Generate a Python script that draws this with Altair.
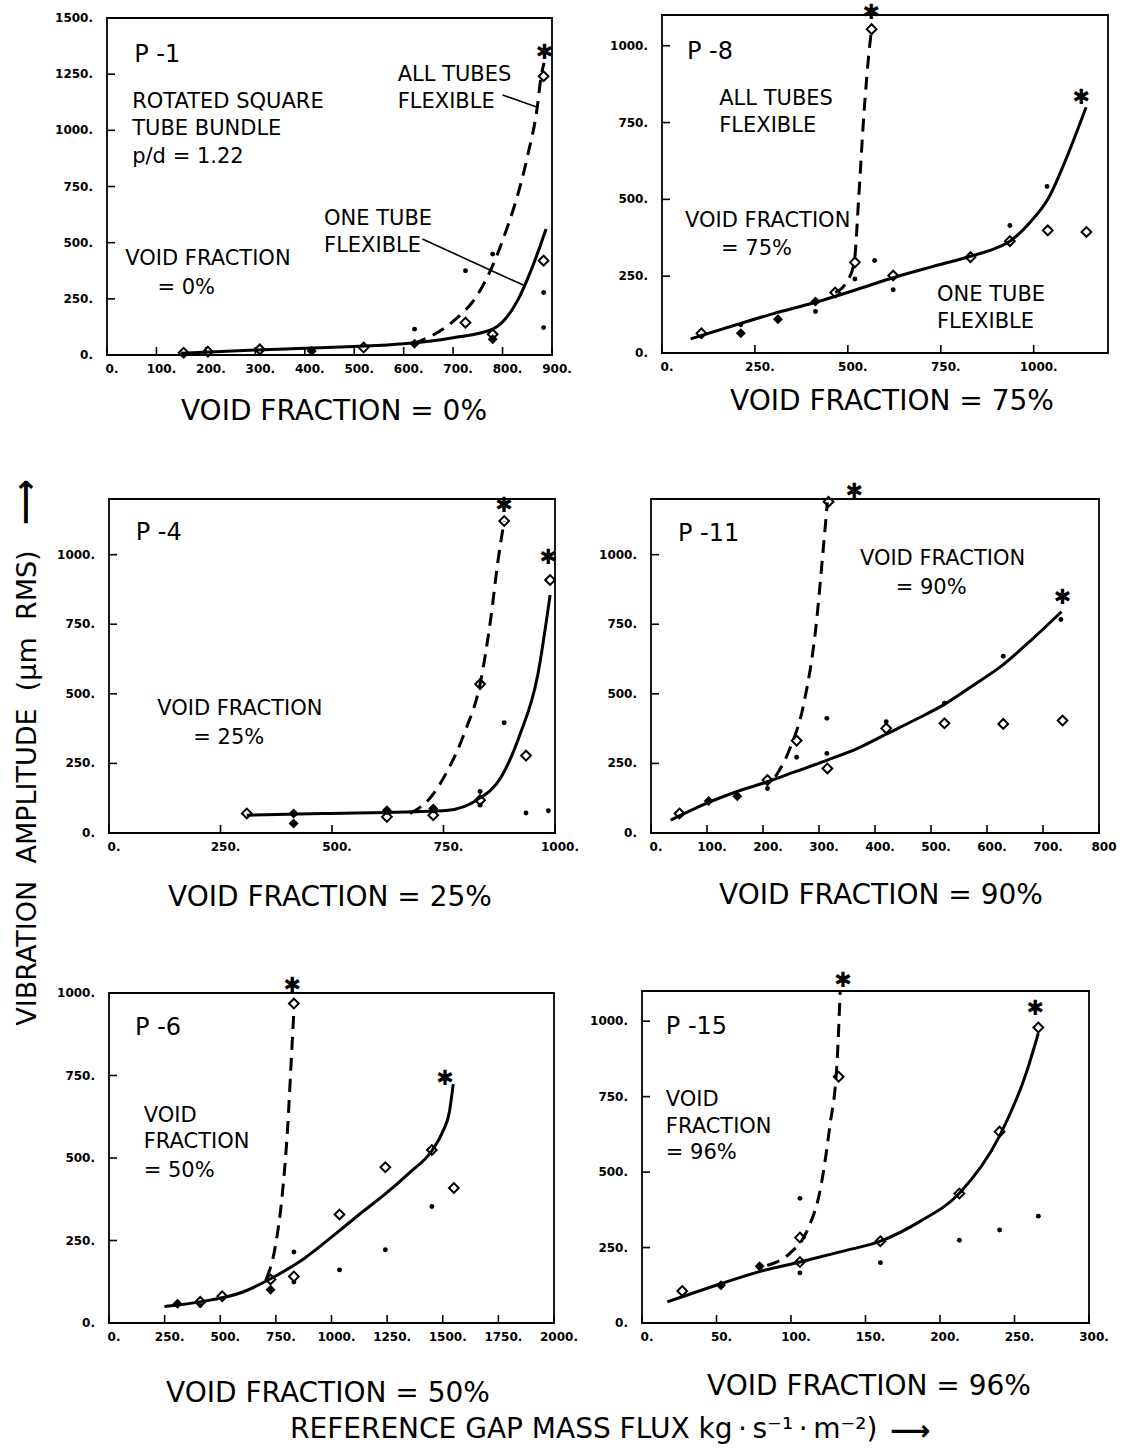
import altair as alt
import pandas as pd

FONT = "DejaVu Sans"
W, H = 1122, 1451

# ---------------- data ----------------
# P-1  void fraction 0 %
p1_open_x = [155, 204, 309, 519, 725, 780, 883, 883]
p1_open_y = [10, 15, 25, 33, 144, 92, 420, 1241]
p1_fill_x = [414, 622, 780]
p1_fill_y = [18, 50, 70]
p1_dot_x = [622, 725, 780, 883, 883]
p1_dot_y = [115, 375, 449, 278, 122]
p1_star_x = [885]
p1_star_y = [1342]
p1_solid_x = [150, 300, 400, 500, 600, 700, 780, 830, 860, 888]
p1_solid_y = [8, 22, 30, 38, 50, 77, 115, 241, 390, 561]
p1_dash_x = [620, 700, 750, 800, 850, 870, 878, 884]
p1_dash_y = [50, 150, 270, 509, 881, 1100, 1240, 1300]

# P-8  void fraction 75 %
p8_open_x = [106, 466, 519, 564, 622, 830, 936, 1038, 1142]
p8_open_y = [64, 197, 295, 1054, 252, 312, 364, 399, 394]
p8_fill_x = [212, 312, 413]
p8_fill_y = [64, 110, 168]
p8_dot_x = [212, 413, 519, 572, 622, 936, 1036]
p8_dot_y = [92, 135, 241, 301, 206, 415, 542]
p8_star_x = [563, 1128]
p8_star_y = [1106, 831]
p8_solid_x = [77, 200, 300, 413, 520, 622, 730, 830, 900, 936, 990, 1038, 1090, 1141]
p8_solid_y = [46, 92, 128, 165, 205, 245, 282, 315, 342, 364, 425, 500, 640, 800]
p8_dash_x = [466, 495, 517, 529, 543, 558, 564]
p8_dash_y = [197, 228, 293, 500, 773, 991, 1056]

# P-4  void fraction 25 %
p4_open_x = [309, 623, 727, 832, 832, 886, 935, 989]
p4_open_y = [70, 58, 64, 118, 535, 1121, 278, 909]
p4_fill_x = [414, 414, 623, 727]
p4_fill_y = [70, 34, 82, 88]
p4_dot_x = [832, 832, 886, 935, 985]
p4_dot_y = [149, 100, 396, 72, 80]
p4_star_x = [886, 985]
p4_star_y = [1175, 988]
p4_solid_x = [309, 478, 679, 760, 824, 880, 920, 961, 989]
p4_solid_y = [64, 70, 76, 82, 118, 203, 348, 565, 855]
p4_dash_x = [675, 719, 760, 800, 832, 856, 872, 886]
p4_dash_y = [70, 124, 227, 372, 535, 771, 976, 1121]

# P-11  void fraction 90 %
p11_open_x = [51, 208, 260, 315, 317, 420, 524, 629, 735]
p11_open_y = [70, 190, 332, 232, 1190, 376, 394, 392, 404]
p11_fill_x = [103, 154]
p11_fill_y = [115, 132]
p11_dot_x = [208, 260, 314, 314, 420, 524, 629, 732]
p11_dot_y = [160, 272, 412, 286, 400, 466, 635, 767]
p11_star_x = [363, 735]
p11_star_y = [1226, 845]
p11_solid_x = [35, 103, 155, 208, 260, 315, 370, 420, 470, 524, 575, 629, 680, 733]
p11_solid_y = [46, 110, 150, 184, 222, 262, 305, 355, 405, 462, 530, 605, 695, 795]
p11_dash_x = [222, 247, 273, 294, 307, 315]
p11_dash_y = [202, 298, 466, 731, 1007, 1188]

# P-6  void fraction 50 %
p6_open_x = [410, 509, 726, 831, 831, 1036, 1242, 1451, 1550]
p6_open_y = [64, 81, 132, 141, 968, 329, 472, 524, 409]
p6_fill_x = [308, 726]
p6_fill_y = [58, 101]
p6_dot_x = [410, 831, 831, 1036, 1242, 1451]
p6_dot_y = [53, 215, 124, 161, 222, 353]
p6_star_x = [824, 1510]
p6_star_y = [1021, 739]
p6_solid_x = [249, 410, 602, 726, 876, 1036, 1140, 1242, 1350, 1451, 1500, 1530, 1547]
p6_solid_y = [50, 64, 94, 134, 195, 280, 337, 391, 455, 522, 580, 640, 724]
p6_dash_x = [707, 747, 779, 803, 819, 831]
p6_dash_y = [134, 230, 391, 593, 794, 946]

# P-15  void fraction 96 %
p15_open_x = [27, 106, 106, 132, 160, 213, 240, 266]
p15_open_y = [106, 202, 283, 816, 271, 429, 634, 979]
p15_fill_x = [53, 79]
p15_fill_y = [125, 188]
p15_dot_x = [106, 106, 160, 213, 240, 266]
p15_dot_y = [166, 413, 200, 274, 308, 354]
p15_star_x = [135, 264]
p15_star_y = [1132, 1040]
p15_solid_x = [17, 53, 80, 106, 135, 160, 186, 213, 240, 258, 266]
p15_solid_y = [70, 130, 172, 202, 238, 271, 335, 430, 620, 830, 960]
p15_dash_x = [84, 99, 111, 120, 126, 131, 133]
p15_dash_y = [191, 230, 308, 451, 650, 872, 1098]

# tick values
p1_xticks = [0, 100, 200, 300, 400, 500, 600, 700, 800, 900]
p1_yticks = [0, 250, 500, 750, 1000, 1250, 1500]
p8_xticks = [0, 250, 500, 750, 1000]
p8_yticks = [0, 250, 500, 750, 1000]
p4_xticks = [0, 250, 500, 750, 1000]
p4_yticks = [0, 250, 500, 750, 1000]
p11_xticks = [0, 100, 200, 300, 400, 500, 600, 700, 800]
p11_yticks = [0, 250, 500, 750, 1000]
p6_xticks = [0, 250, 500, 750, 1000, 1250, 1500, 1750, 2000]
p6_yticks = [0, 250, 500, 750, 1000]
p15_xticks = [0, 50, 100, 150, 200, 250, 300]
p15_yticks = [0, 250, 500, 750, 1000]

# in-panel texts
p1_texts = ["P -1", "ROTATED SQUARE", "TUBE BUNDLE", "p/d = 1.22", "VOID FRACTION",
            "= 0%", "ALL TUBES", "FLEXIBLE", "ONE TUBE", "FLEXIBLE"]
p8_texts = ["P -8", "ALL TUBES", "FLEXIBLE", "VOID FRACTION", "= 75%", "ONE TUBE", "FLEXIBLE"]
p4_texts = ["P -4", "VOID FRACTION", "= 25%"]
p11_texts = ["P -11", "VOID FRACTION", "= 90%"]
p6_texts = ["P -6", "VOID", "FRACTION", "= 50%"]
p15_texts = ["P -15", "VOID", "FRACTION", "= 96%"]

titles = ["VOID FRACTION = 0%", "VOID FRACTION = 75%", "VOID FRACTION = 25%",
          "VOID FRACTION = 90%", "VOID FRACTION = 50%", "VOID FRACTION = 96%"]
y_label = "VIBRATION\u00a0\u00a0AMPLITUDE\u00a0\u00a0(\u03bcm\u00a0\u00a0RMS)"
x_label = ("REFERENCE GAP MASS FLUX kg\u2009\u00b7\u2009s\u207b\u00b9\u2009\u00b7\u2009"
           "m\u207b\u00b2)")
arrow = "\u27f6"

# ---------------- layout (pixels) ----------------
panels = [
    dict(name="p1", xmax=900, ymax=1500, x0=107, x1=552, yt=18, yb=355,
         xt=p1_xticks, yt_v=p1_yticks, title=titles[0], tx=334, ty=412,
         ox=p1_open_x, oy=p1_open_y, fx=p1_fill_x, fy=p1_fill_y, dx=p1_dot_x, dy=p1_dot_y,
         sx=p1_star_x, sy=p1_star_y, lx=p1_solid_x, ly=p1_solid_y, kx=p1_dash_x, ky=p1_dash_y,
         texts=p1_texts,
         tpos=[(55, 1335), (51, 1126), (51, 1007), (51, 881), (37, 427), (102, 300),
               (588, 1245), (588, 1126), (439, 605), (439, 487)],
         leaders=[(800, 1157, 869, 1104), (638, 516, 845, 308)]),
    dict(name="p8", xmax=1200, ymax=1100, x0=662, x1=1108, yt=15, yb=353,
         xt=p8_xticks, yt_v=p8_yticks, title=titles[1], tx=892, ty=402,
         ox=p8_open_x, oy=p8_open_y, fx=p8_fill_x, fy=p8_fill_y, dx=p8_dot_x, dy=p8_dot_y,
         sx=p8_star_x, sy=p8_star_y, lx=p8_solid_x, ly=p8_solid_y, kx=p8_dash_x, ky=p8_dash_y,
         texts=p8_texts,
         tpos=[(67, 980), (154, 827), (154, 740), (62, 430), (159, 337), (740, 190), (740, 102)],
         leaders=[]),
    dict(name="p4", xmax=1000, ymax=1200, x0=109, x1=555, yt=499, yb=833,
         xt=p4_xticks, yt_v=p4_yticks, title=titles[2], tx=330, ty=898,
         ox=p4_open_x, oy=p4_open_y, fx=p4_fill_x, fy=p4_fill_y, dx=p4_dot_x, dy=p4_dot_y,
         sx=p4_star_x, sy=p4_star_y, lx=p4_solid_x, ly=p4_solid_y, kx=p4_dash_x, ky=p4_dash_y,
         texts=p4_texts, tpos=[(60, 1078), (108, 444), (189, 342)], leaders=[]),
    dict(name="p11", xmax=800, ymax=1200, x0=651, x1=1099, yt=499, yb=833,
         xt=p11_xticks, yt_v=p11_yticks, title=titles[3], tx=881, ty=896,
         ox=p11_open_x, oy=p11_open_y, fx=p11_fill_x, fy=p11_fill_y, dx=p11_dot_x, dy=p11_dot_y,
         sx=p11_star_x, sy=p11_star_y, lx=p11_solid_x, ly=p11_solid_y, kx=p11_dash_x, ky=p11_dash_y,
         texts=p11_texts, tpos=[(48, 1073), (373, 983), (437, 881)], leaders=[]),
    dict(name="p6", xmax=2000, ymax=1000, x0=109, x1=554, yt=993, yb=1323,
         xt=p6_xticks, yt_v=p6_yticks, title=titles[4], tx=328, ty=1394,
         ox=p6_open_x, oy=p6_open_y, fx=p6_fill_x, fy=p6_fill_y, dx=p6_dot_x, dy=p6_dot_y,
         sx=p6_star_x, sy=p6_star_y, lx=p6_solid_x, ly=p6_solid_y, kx=p6_dash_x, ky=p6_dash_y,
         texts=p6_texts, tpos=[(117, 895), (156, 628), (156, 548), (156, 462)], leaders=[]),
    dict(name="p15", xmax=300, ymax=1100, x0=642, x1=1089, yt=991, yb=1323,
         xt=p15_xticks, yt_v=p15_yticks, title=titles[5], tx=869, ty=1387,
         ox=p15_open_x, oy=p15_open_y, fx=p15_fill_x, fy=p15_fill_y, dx=p15_dot_x, dy=p15_dot_y,
         sx=p15_star_x, sy=p15_star_y, lx=p15_solid_x, ly=p15_solid_y, kx=p15_dash_x, ky=p15_dash_y,
         texts=p15_texts, tpos=[(16, 982), (16, 739), (16, 650), (16, 562)], leaders=[]),
]

TICK = 8
LW = 3.0


def make_panel(c):
    xs = alt.Scale(domain=[0, c["xmax"]], range=[c["x0"], c["x1"]], nice=False, zero=False)
    ys = alt.Scale(domain=[0, c["ymax"]], range=[c["yb"], c["yt"]], nice=False, zero=False)

    def X(f):
        return alt.X(f, type="quantitative", scale=xs, axis=None)

    def Y(f):
        return alt.Y(f, type="quantitative", scale=ys, axis=None)

    if c["name"] == "p11":
        xexpr = "datum.v == 800 ? '800' : datum.v + '.'"
    else:
        xexpr = "datum.v + '.'"

    frame_df = pd.DataFrame({"x": [0], "x2": [c["xmax"]], "y": [0], "y2": [c["ymax"]]})
    frame = alt.Chart(frame_df).mark_rect(
        fillOpacity=0, stroke="black", strokeWidth=1.8
    ).encode(x=X("x"), x2="x2:Q", y=Y("y"), y2="y2:Q")

    xt_df = pd.DataFrame({"v": c["xt"]})
    xticks = alt.Chart(xt_df).mark_rule(color="black", strokeWidth=1.6).encode(
        x=X("v"), y=alt.value(c["yb"]), y2=alt.value(c["yb"] - TICK))
    xlabels = alt.Chart(xt_df).transform_calculate(lab=xexpr).mark_text(
        font=FONT, fontSize=12, fontWeight="bold", color="black", align="center",
        baseline="top", dx=5
    ).encode(x=X("v"), y=alt.value(c["yb"] + 9), text="lab:N")

    yt_df = pd.DataFrame({"v": c["yt_v"]})
    yticks = alt.Chart(yt_df).mark_rule(color="black", strokeWidth=1.6).encode(
        y=Y("v"), x=alt.value(c["x0"]), x2=alt.value(c["x0"] + TICK))
    ylabels = alt.Chart(yt_df).transform_calculate(lab="datum.v + '.'").mark_text(
        font=FONT, fontSize=12, fontWeight="bold", color="black", align="right", baseline="middle"
    ).encode(y=Y("v"), x=alt.value(c["x0"] - 14), text="lab:N")

    title = alt.Chart(pd.DataFrame({"t": [c["title"]]})).mark_text(
        font=FONT, fontSize=28, color="black", align="center", baseline="middle"
    ).encode(text="t:N", x=alt.value(c["tx"]), y=alt.value(c["ty"]))

    solid = alt.Chart(pd.DataFrame({"x": c["lx"], "y": c["ly"]})).mark_line(
        color="black", strokeWidth=LW, interpolate="monotone").encode(x=X("x"), y=Y("y"))
    dash = alt.Chart(pd.DataFrame({"x": c["kx"], "y": c["ky"]})).mark_line(
        color="black", strokeWidth=LW, strokeDash=[13, 8], interpolate="monotone"
    ).encode(x=X("x"), y=Y("y"))

    opn = alt.Chart(pd.DataFrame({"x": c["ox"], "y": c["oy"]})).mark_point(
        shape="diamond", filled=False, color="black", size=95, strokeWidth=2, opacity=1
    ).encode(x=X("x"), y=Y("y"))
    fil = alt.Chart(pd.DataFrame({"x": c["fx"], "y": c["fy"]})).mark_point(
        shape="diamond", filled=True, color="black", size=100, opacity=1
    ).encode(x=X("x"), y=Y("y"))
    dots = alt.Chart(pd.DataFrame({"x": c["dx"], "y": c["dy"]})).mark_circle(
        color="black", size=24, opacity=1).encode(x=X("x"), y=Y("y"))
    stars = alt.Chart(pd.DataFrame({"x": c["sx"], "y": c["sy"], "t": ["\u2731"] * len(c["sx"])})).mark_text(
        font=FONT, fontSize=21, fontWeight="bold", color="black", baseline="middle", align="center"
    ).encode(x=X("x"), y=Y("y"), text="t:N")

    tdf = pd.DataFrame({
        "t": c["texts"],
        "x": [p[0] for p in c["tpos"]],
        "y": [p[1] for p in c["tpos"]],
        "s": [24] + [21] * (len(c["texts"]) - 1),
    })
    labels = alt.Chart(tdf).mark_text(
        font=FONT, color="black", align="left", baseline="middle"
    ).encode(x=X("x"), y=Y("y"), text="t:N",
             size=alt.Size("s:Q", scale=None, legend=None))

    layers = [frame, xticks, yticks, xlabels, ylabels, title, solid, dash, opn, fil, dots, stars, labels]
    if c["leaders"]:
        ldf = pd.DataFrame({
            "x": [l[0] for l in c["leaders"]], "y": [l[1] for l in c["leaders"]],
            "x2": [l[2] for l in c["leaders"]], "y2": [l[3] for l in c["leaders"]],
        })
        lead = alt.Chart(ldf).mark_rule(color="black", strokeWidth=1.6).encode(
            x=X("x"), y=Y("y"), x2="x2:Q", y2="y2:Q")
        layers.append(lead)
    return alt.layer(*layers)


panel_charts = [make_panel(c) for c in panels]

# global axis labels
ylab = alt.Chart(pd.DataFrame({"t": [y_label]})).mark_text(
    font=FONT, fontSize=27, angle=270, align="center", baseline="middle", color="black"
).encode(text="t:N", x=alt.value(28), y=alt.value(788))
yarrow = alt.Chart(pd.DataFrame({"t": [arrow]})).mark_text(
    font=FONT, fontSize=32, fontWeight="bold", angle=270, align="center", baseline="middle",
    color="black"
).encode(text="t:N", x=alt.value(26), y=alt.value(502))
xlab = alt.Chart(pd.DataFrame({"t": [x_label]})).mark_text(
    font=FONT, fontSize=28, align="left", baseline="middle", color="black"
).encode(text="t:N", x=alt.value(290), y=alt.value(1430))
xarrow = alt.Chart(pd.DataFrame({"t": [arrow]})).mark_text(
    font=FONT, fontSize=28, fontWeight="bold", align="left", baseline="middle", color="black"
).encode(text="t:N", x=alt.value(890), y=alt.value(1432))

chart = alt.layer(*panel_charts, ylab, yarrow, xlab, xarrow).resolve_scale(
    x="independent", y="independent"
).properties(
    width=W, height=H, autosize=alt.AutoSizeParams(type="none"), padding=0,
    background="white"
).configure_view(stroke=None)

chart.save("out.html", embed_options={"renderer": "svg", "actions": False})
